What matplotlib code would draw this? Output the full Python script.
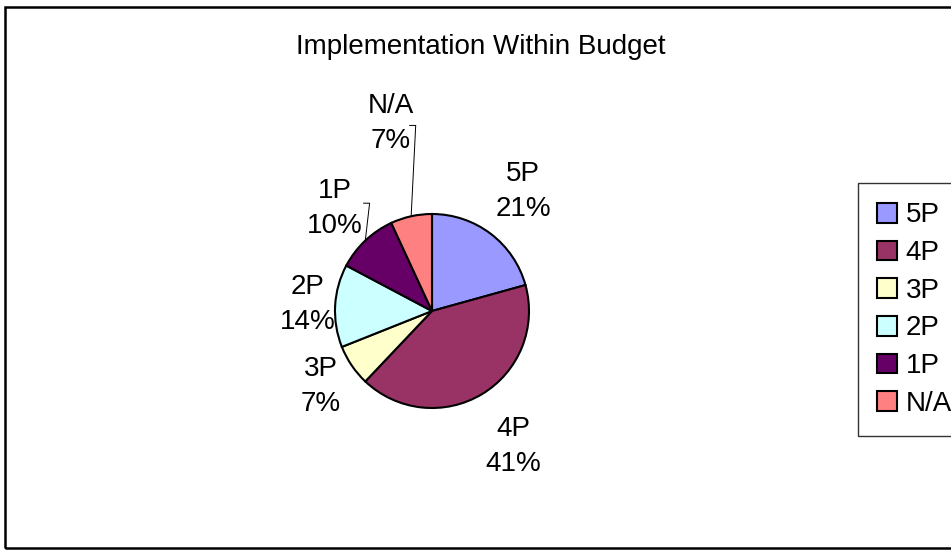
import numpy as np
import matplotlib.pyplot as plt
from matplotlib.patches import Rectangle

plt.rcParams["font.family"] = ["Liberation Sans Narrow", "Liberation Sans", "DejaVu Sans"]

fs = 20  # font size
title = "Implementation Within Budget"
categories = ["5P", "4P", "3P", "2P", "1P", "N/A"]
counts = [6, 12, 2, 4, 3, 2]
colors = ["#9999FF", "#993366", "#FFFFCC", "#CCFFFF", "#660066", "#FF8080"]

# label placement (style only): distance from centre in radii, leader line offsets
label_dist = [1.55, 1.63, 1.39, 1.28, 1.46, 1.98]
leader = [None, None, None, None, (35, 5), (25, -2)]

fig = plt.figure(figsize=(9.51, 5.50), dpi=100)
ax = fig.add_axes([0, 0, 1, 1])

center = (432, 239)
radius = 97
wedges, _ = ax.pie(counts, colors=colors, startangle=90, counterclock=False,
                   center=center, radius=radius, frame=True,
                   wedgeprops=dict(edgecolor="black", linewidth=1.5))
ax.set_xlim(0, 951)
ax.set_ylim(0, 550)
ax.axis("off")

total = sum(counts)
for w, cat, n, d, ld in zip(wedges, categories, counts, label_dist, leader):
    theta = np.deg2rad((w.theta1 + w.theta2) / 2)
    lx = center[0] + d * radius * np.cos(theta)
    ly = center[1] + d * radius * np.sin(theta)
    pct = 100.0 * n / total
    ax.text(lx, ly, "{}\n{:.0f}%".format(cat, pct), ha="center", va="center",
            fontsize=fs, linespacing=1.45)
    if ld is not None:
        ex = center[0] + radius * np.cos(theta)
        ey = center[1] + radius * np.sin(theta)
        cx, cy = lx + ld[0], ly + ld[1]
        ax.plot([ex, cx, cx - 6], [ey, cy, cy], color="black", lw=0.7)

fig.text(481 / 951, 1 - 47 / 550, title, ha="center", va="center", fontsize=fs)

leg = fig.legend(wedges, categories, loc="upper left",
                 bbox_to_anchor=(858 / 951, 1 - 183 / 550),
                 fontsize=fs, frameon=True, fancybox=False,
                 handlelength=0.72, handleheight=0.72, handletextpad=0.3,
                 labelspacing=0.42, borderpad=0.7, borderaxespad=0)
leg.get_frame().set_edgecolor("black")
leg.get_frame().set_linewidth(1.0)

# outer chart border
fig.patches.append(Rectangle((5 / 951, 2 / 550), 1.1, 541 / 550,
                             transform=fig.transFigure, fill=False,
                             edgecolor="black", linewidth=1.8))

fig.savefig("out.png", dpi=100)
